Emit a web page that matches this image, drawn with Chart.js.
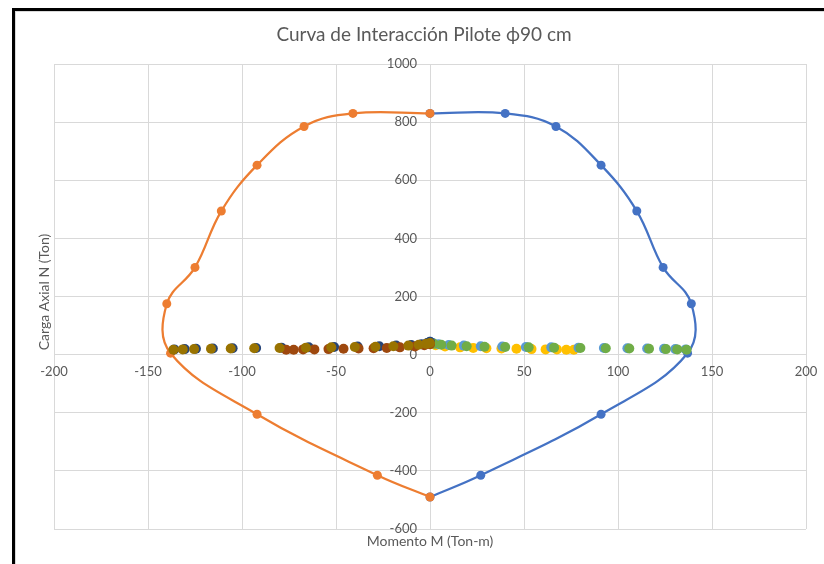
<!DOCTYPE html>
<html>
<head>
<meta charset="utf-8">
<script src="https://cdn.jsdelivr.net/npm/chart.js@4.4.1/dist/chart.umd.min.js"></script>
<style>
  html, body { margin: 0; padding: 0; background: #fff; }
  #wrap { position: relative; width: 824px; height: 564px; overflow: hidden; }
  .frame { position: absolute; left: 12px; top: 8px; right: -10px; bottom: -10px;
           border-left: 3px solid #000; border-top: 3px solid #000; }
  .inner { position: absolute; left: 15px; top: 11px; right: -10px; bottom: -10px;
           border-left: 1px solid #d9d9d9; border-top: 1px solid #d9d9d9; }
  canvas { position: absolute; left: 0; top: 0; }
</style>
</head>
<body>
<div id="wrap">
  <div class="frame"></div>
  <div class="inner"></div>
  <canvas id="chart" width="824" height="564"></canvas>
</div>
<script>
const TITLE = "Curva de Interacción Pilote ϕ90 cm";
const X_TITLE = "Momento M (Ton-m)";
const Y_TITLE = "Carga Axial N (Ton)";

const xTicks = [-200, -150, -100, -50, 0, 50, 100, 150, 200];
const yTicks = [-600, -400, -200, 0, 200, 400, 600, 800, 1000];

// interaction curve, negative moment side
const leftM = [0, -41, -67, -92, -111, -125, -140, -138, -92, -28, 0];
const leftN = [830, 830, 785, 652, 494, 300, 175, 5, -205, -415, -490];
// interaction curve, positive moment side
const rightM = [0, 40, 67, 91, 110, 124, 139, 137, 91, 27, 0];
const rightN = [830, 830, 785, 652, 494, 300, 175, 5, -205, -415, -490];

// load combinations
const goldM = [0, 3, 8, 16, 23, 30, 38, 46, 54, 61.5, 67.5, 72.5, 76.5];
const goldN = [36, 32, 28, 25, 23, 22, 21, 20, 19, 18, 18, 17, 17];
const lightBlueM = [0, 1.5, 4.5, 10, 18, 27, 38.5, 51, 64.5, 79, 92.5, 105, 115.5, 124.5, 130.5, 136];
const lightBlueN = [44, 40, 36, 33, 31, 29, 28, 26, 25, 24, 23, 22, 21, 20, 19, 18];
const greenM = [0, 2, 6, 11.5, 19.5, 29, 40, 52.5, 66, 80, 93.5, 106, 116.5, 125.5, 131.5, 136.5];
const greenN = [40, 37, 34, 31, 29, 27, 26, 25, 24, 23, 22, 21, 20, 19, 18, 17];
const darkBlueM = [0, -1.5, -4.5, -10, -18, -27, -38.5, -51, -64.5, -79, -92.5, -105, -115.5, -124.5, -130.5, -136];
const darkBlueN = [44, 40, 36, 33, 31, 29, 28, 26, 25, 24, 23, 22, 21, 20, 19, 18];
const darkOrangeM = [0, -3, -8, -16, -23, -30, -38, -46, -54, -61.5, -67.5, -72.5, -76.5];
const darkOrangeN = [36, 32, 28, 25, 23, 22, 21, 20, 19, 18, 18, 17, 17];
const darkGoldM = [0, -2, -6, -11.5, -19.5, -29, -40, -52.5, -66, -80, -93.5, -106, -116.5, -125.5, -131.5, -136.5];
const darkGoldN = [40, 37, 34, 31, 29, 27, 26, 25, 24, 23, 22, 21, 20, 19, 18, 17];

const FONT = "Lato, 'Open Sans', sans-serif";
const GREY = "#595959";

const pts = (m, n) => m.map((v, i) => ({ x: v, y: n[i] }));

const curve = (m, n, color, order) => ({
  data: pts(m, n),
  showLine: true,
  tension: 0.4,
  borderColor: color,
  backgroundColor: color,
  borderWidth: 2.25,
  pointRadius: 4.5,
  pointBorderWidth: 0,
  order
});

const dots = (m, n, color, order) => ({
  data: pts(m, n),
  showLine: false,
  borderColor: color,
  backgroundColor: color,
  pointRadius: 5,
  pointBorderWidth: 0,
  order
});

// tick labels, axis titles and the title, placed like the Excel original
const excelText = {
  id: "excelText",
  beforeDatasetsDraw(chart) {
    const { ctx, scales: { x, y } } = chart;
    const x0 = x.getPixelForValue(0);
    const y0 = y.getPixelForValue(0);
    ctx.save();
    ctx.fillStyle = GREY;
    ctx.font = "13px " + FONT;
    ctx.textBaseline = "middle";
    ctx.textAlign = "center";
    xTicks.forEach(v => ctx.fillText(String(v), x.getPixelForValue(v), y0 + 17));
    ctx.textAlign = "right";
    yTicks.forEach(v => ctx.fillText(String(v), x0 - 13, y.getPixelForValue(v)));
    ctx.restore();
  },
  afterDraw(chart) {
    const { ctx, chartArea } = chart;
    ctx.save();
    ctx.fillStyle = GREY;
    ctx.textBaseline = "middle";
    ctx.textAlign = "center";
    ctx.font = "19px " + FONT;
    ctx.fillText(TITLE, 424, 35);
    ctx.font = "14px " + FONT;
    ctx.fillText(X_TITLE, (chartArea.left + chartArea.right) / 2, 541);
    ctx.translate(44, 292);
    ctx.rotate(-Math.PI / 2);
    ctx.fillText(Y_TITLE, 0, 0);
    ctx.restore();
  }
};

new Chart(document.getElementById("chart"), {
  type: "scatter",
  data: {
    datasets: [
      curve(rightM, rightN, "#4472C4", 10),
      curve(leftM, leftN, "#ED7D31", 9),
      dots(goldM, goldN, "#FFC000", 8),
      dots(lightBlueM, lightBlueN, "#5B9BD5", 7),
      dots(greenM, greenN, "#70AD47", 6),
      dots(darkBlueM, darkBlueN, "#264478", 5),
      dots(darkOrangeM, darkOrangeN, "#9E480E", 4),
      dots(darkGoldM, darkGoldN, "#997300", 1)
    ]
  },
  options: {
    responsive: false,
    animation: false,
    layout: { padding: { left: 54, right: 18, top: 64, bottom: 35 } },
    plugins: {
      legend: { display: false },
      title: { display: false },
      tooltip: { enabled: false }
    },
    scales: {
      x: {
        type: "linear",
        min: -200, max: 200,
        ticks: { display: false, stepSize: 50 },
        grid: { color: "#d9d9d9", drawTicks: false },
        border: { display: false }
      },
      y: {
        type: "linear",
        min: -600, max: 1000,
        ticks: { display: false, stepSize: 200 },
        grid: { color: "#d9d9d9", drawTicks: false },
        border: { display: false }
      }
    }
  },
  plugins: [excelText]
});
</script>
</body>
</html>
